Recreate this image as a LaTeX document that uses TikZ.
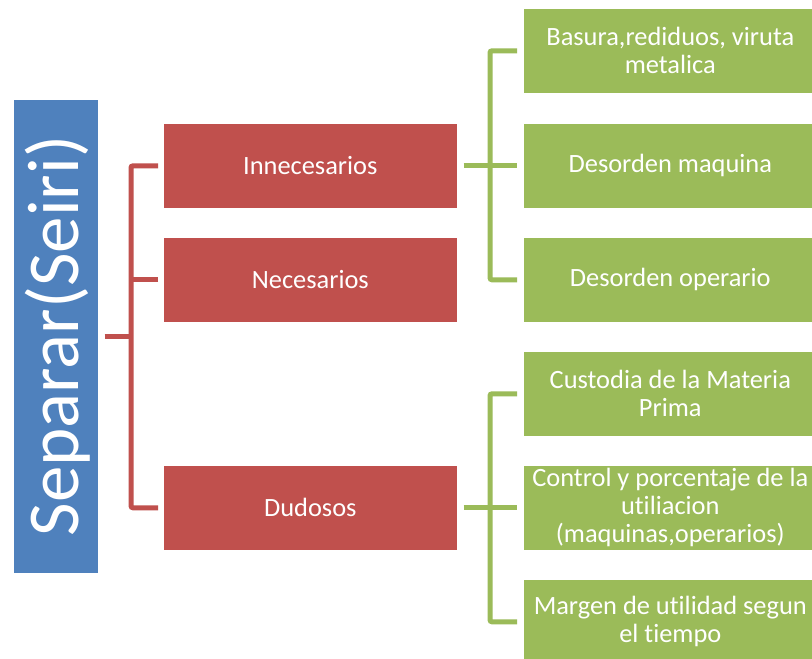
\documentclass[tikz,border=0pt]{standalone}
\usepackage{fontspec}
\setmainfont{Carlito}[Ligatures={NoCommon}]
\definecolor{sblue}{HTML}{4F81BD}
\definecolor{sred}{HTML}{C0504D}
\definecolor{sgreen}{HTML}{9BBB59}
\begin{document}
\begin{tikzpicture}[x=1pt,y=-1pt,
  box/.style={anchor=north west, minimum width=294pt, minimum height=85pt,
    inner sep=0pt, text=white, align=center, draw=white, line width=0.6pt,
    font=\fontsize{26.4}{28}\selectfont},
  redbox/.style={box, fill=sred},
  greenbox/.style={box, fill=sgreen},
  redcon/.style={draw=sred, line width=5pt, rounded corners=2pt},
  greencon/.style={draw=sgreen, line width=5pt, rounded corners=2pt}]
  \useasboundingbox (0,0) rectangle (812,659);
  \clip (0,0) rectangle (812,659);
  \fill[white] (0,0) rectangle (812,659);

  % root
  \node[fill=sblue, draw=white, line width=0.6pt, anchor=north west,
        minimum width=85pt, minimum height=474pt, inner sep=0pt] (seiri) at (13,99) {};
  \node[rotate=90, text=white, font=\fontsize{73}{80}\selectfont, inner sep=0pt]
        (seiritxt) at (58,336) {Separar(Seiri)};

  % categories
  \node[redbox] (innec) at (163,123) {Innecesarios};
  \node[redbox] (nec)   at (163,237) {Necesarios};
  \node[redbox] (dud)   at (163,465) {Dudosos};

  % items
  \node[greenbox] (g1) at (523,8)   {Basura,rediduos, viruta\\metalica};
  \node[greenbox] (g2) at (523,123) {Desorden maquina};
  \node[greenbox] (g3) at (523,237) {Desorden operario};
  \node[greenbox] (g4) at (523,351) {Custodia de la Materia\\Prima};
  \node[greenbox] (g5) at (523,465) {Control y porcentaje de la\\utiliacion\\(maquinas,operarios)};
  \node[greenbox] (g6) at (523,579) {Margen de utilidad segun\\el tiempo};

  % root to categories
  \draw[redcon] ([xshift=6pt]seiri.east) -- ++(27pt,0);
  \draw[redcon] ([xshift=-5pt]innec.west) -| ([xshift=-32pt]dud.west) -- ([xshift=-5pt]dud.west);
  \draw[redcon] ([xshift=-5pt]nec.west) -- ([xshift=-32pt]nec.west);

  % Innecesarios to its items
  \draw[greencon] ([xshift=6pt]innec.east) -- ([xshift=-6pt]g2.west);
  \draw[greencon] ([xshift=-6pt]g1.west) -| ([xshift=-33pt]g3.west) -- ([xshift=-6pt]g3.west);

  % Dudosos to its items
  \draw[greencon] ([xshift=6pt]dud.east) -- ([xshift=-6pt]g5.west);
  \draw[greencon] ([xshift=-6pt]g4.west) -| ([xshift=-33pt]g6.west) -- ([xshift=-6pt]g6.west);
\end{tikzpicture}
\end{document}
